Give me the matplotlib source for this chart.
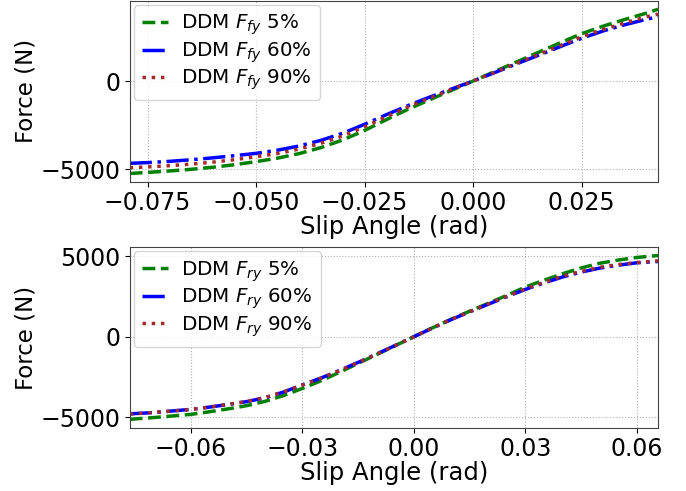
import matplotlib
matplotlib.use("Agg")
import matplotlib.pyplot as plt

# ---------------- data: front axle (top) ----------------
alpha_front = [-0.0791, -0.075, -0.07, -0.065, -0.06, -0.055, -0.05, -0.045, -0.04,
               -0.035, -0.03, -0.025, -0.02, -0.015, -0.01, -0.005, 0.0, 0.005,
               0.01, 0.015, 0.02, 0.025, 0.03, 0.035, 0.04, 0.0426]
ffy_5 = [-5237, -5175, -5095, -5000, -4885, -4740, -4565, -4365, -4105,
         -3765, -3335, -2800, -2190, -1600, -1060, -530, 0, 540,
         1080, 1620, 2160, 2680, 3110, 3490, 3850, 4065]
ffy_60 = [-4660, -4620, -4550, -4460, -4350, -4230, -4095, -3915, -3675,
          -3355, -2955, -2450, -1910, -1390, -910, -455, 0, 480,
          970, 1450, 1940, 2420, 2840, 3190, 3500, 3640]
ffy_90 = [-4910, -4865, -4795, -4705, -4595, -4455, -4290, -4100, -3850,
          -3520, -3110, -2590, -2030, -1470, -960, -480, 0, 500,
          1000, 1500, 2000, 2500, 2920, 3290, 3640, 3790]

# ---------------- data: rear axle (bottom) ----------------
alpha_rear = [-0.0765, -0.075, -0.07, -0.065, -0.06, -0.055, -0.05, -0.045, -0.04,
              -0.035, -0.03, -0.025, -0.02, -0.015, -0.01, -0.005, 0.0, 0.005,
              0.01, 0.015, 0.02, 0.025, 0.03, 0.035, 0.04, 0.045, 0.05, 0.055,
              0.06, 0.0657]
fry_5 = [-5130, -5090, -5010, -4910, -4810, -4650, -4470, -4270, -4000,
         -3640, -3200, -2730, -2200, -1650, -1100, -550, 0, 550,
         1080, 1580, 2070, 2560, 3080, 3500, 3900, 4260, 4550, 4750,
         4910, 5030]
fry_60 = [-4780, -4760, -4700, -4600, -4500, -4360, -4200, -4020, -3780,
          -3420, -2980, -2560, -2090, -1590, -1070, -540, 0, 540,
          1060, 1540, 2010, 2480, 2930, 3330, 3700, 4000, 4250, 4430,
          4580, 4660]
fry_90 = [-4800, -4770, -4690, -4600, -4510, -4360, -4190, -4010, -3760,
          -3410, -3000, -2570, -2100, -1600, -1080, -545, 0, 545,
          1070, 1550, 2030, 2500, 2960, 3360, 3760, 4040, 4300, 4470,
          4590, 4700]

labels_front = [r"DDM $F_{fy}$ 5%", r"DDM $F_{fy}$ 60%", r"DDM $F_{fy}$ 90%"]
labels_rear = [r"DDM $F_{ry}$ 5%", r"DDM $F_{ry}$ 60%", r"DDM $F_{ry}$ 90%"]
top_xticks = [-0.075, -0.05, -0.025, 0.0, 0.025]
bot_xticks = [-0.06, -0.03, 0.0, 0.03, 0.06]

styles = [dict(color="green", ls="--"),
          dict(color="blue", ls="-."),
          dict(color="brown", ls=":")]


def fmt(v, nd):
    s = f"{v:.{nd}f}"
    return ("\u2212" + s[1:]) if s.startswith("-") else s


fig = plt.figure(figsize=(6.86, 4.91), dpi=100)
ax1 = fig.add_axes([0.1891, 0.6299, 0.7701, 0.368])
ax2 = fig.add_axes([0.1891, 0.1289, 0.7701, 0.3674])

for ax, x, series, labels, xt, nd in [
        (ax1, alpha_front, [ffy_5, ffy_60, ffy_90], labels_front, top_xticks, 3),
        (ax2, alpha_rear, [fry_5, fry_60, fry_90], labels_rear, bot_xticks, 2)]:
    for s, lab, st in zip(series, labels, styles):
        ax.plot(x, s, lw=2.5, label=lab, **st)
    ax.set_xlim(min(x), max(x))
    ax.set_xticks(xt)
    ax.set_xticklabels([fmt(v, nd) for v in xt])
    ax.grid(True, ls=":", color="#b0b0b0", lw=0.8)
    ax.tick_params(labelsize=17)
    ax.set_xlabel("Slip Angle (rad)", fontsize=17.5, labelpad=0)
    ax.set_ylabel("Force (N)", fontsize=16.5)
    ax.yaxis.set_label_coords(-0.175, 0.5)
    ax.legend(loc="upper left", fontsize=14.3, borderaxespad=0.2,
              labelspacing=0.15, handlelength=1.35, handletextpad=0.65)
    for sp in ax.spines.values():
        sp.set_color("#444444")

ax1.set_yticks([-5000, 0])
ax1.set_yticklabels([fmt(v, 0) for v in [-5000, 0]])
ax2.set_yticks([-5000, 0, 5000])
ax2.set_yticklabels([fmt(v, 0) for v in [-5000, 0, 5000]])

fig.savefig("out.png", dpi=100)
